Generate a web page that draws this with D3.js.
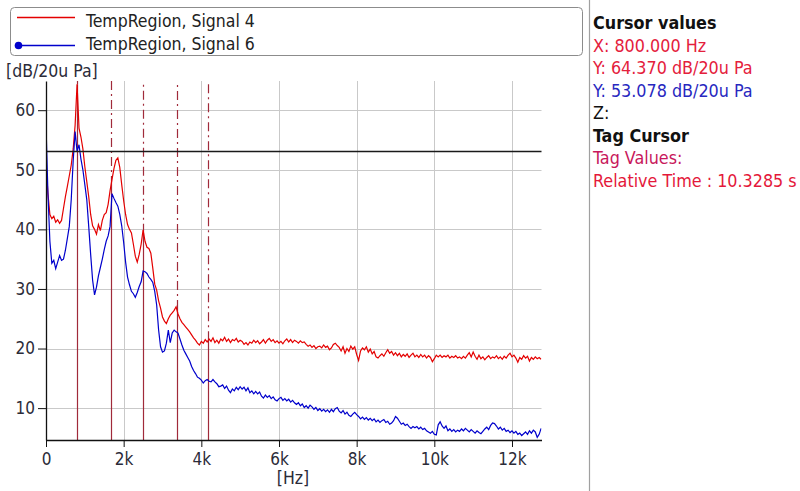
<!DOCTYPE html>
<html>
<head>
<meta charset="utf-8">
<script src="https://cdn.jsdelivr.net/npm/d3@7"></script>
<style>
  html, body { margin: 0; padding: 0; background: #fff; }
  svg { display: block; font-family: "DejaVu Sans Condensed", "DejaVu Sans", sans-serif; font-stretch: condensed; }
</style>
</head>
<body>
<svg id="chart" width="800" height="491"></svg>
<script>
// ---- data -------------------------------------------------------------
// FFT bins every 50 Hz from 0 to 12 750 Hz
const binWidthHz = 50;

const seriesNames = ["TempRegion, Signal 4", "TempRegion, Signal 6"];

// Signal 4 level per bin [dB/20u Pa]
const signal4 = [
  51.0, 46.0, 42.5, 41.8, 42.2, 41.2, 41.6, 41.0, 41.5, 43.5,
  45.5, 47.2, 49.0, 50.8, 53.5, 57.5, 64.37, 57.0, 55.5, 53.5,
  50.5, 48.0, 45.5, 42.5, 40.6, 40.0, 39.2, 40.8, 39.8, 41.5,
  42.5, 42.8, 44.2, 46.5, 48.4, 50.2, 51.6, 52.0, 50.4, 47.5,
  44.8, 42.5, 40.8, 40.0, 39.4, 37.5, 35.5, 34.5, 35.8, 37.5,
  39.9, 38.0, 37.0, 36.8, 36.0, 33.5, 30.8, 29.8, 28.0, 26.8,
  25.3, 24.6, 24.2, 25.0, 25.6, 26.0, 26.4, 27.0, 25.8, 25.0,
  24.4, 24.0, 23.6, 23.2, 22.8, 22.3, 21.8, 21.4, 20.9, 20.6,
  21.2, 20.9, 21.5, 21.1, 21.6, 21.2, 21.8, 21.0, 21.4, 20.9,
  21.6, 21.3, 21.9, 21.2, 21.6, 21.0, 21.5, 21.3, 21.7, 21.1,
  21.4, 21.2, 20.7, 21.0, 20.6, 21.1, 20.9, 21.4, 21.0, 21.3,
  20.8, 21.1, 21.5, 20.9, 21.4, 21.7, 21.2, 21.5, 21.0, 21.3,
  20.9, 21.2, 20.8, 21.3, 21.6, 21.1, 21.5, 21.0, 21.4, 21.2,
  20.9, 21.3, 21.0, 21.1, 20.7, 20.4, 20.6, 20.2, 20.5, 20.0,
  20.3, 20.4, 20.1, 20.6, 20.2, 20.4, 19.8, 20.1, 20.7, 20.9,
  20.5, 20.2, 19.6, 20.3, 19.2, 20.0, 19.5, 20.4, 19.9, 20.3,
  19.0, 18.0, 19.6, 20.1, 19.8, 20.3, 19.4, 19.9, 19.1, 19.5,
  18.6, 18.4, 18.8, 19.1, 18.7, 19.3, 19.8, 19.2, 19.5, 18.9,
  19.3, 18.8, 19.2, 18.6, 19.0, 18.7, 19.1, 18.5, 18.9, 19.2,
  18.6, 18.9, 18.5, 19.0, 18.6, 18.9, 18.4, 18.8, 18.5, 17.8,
  18.3, 18.9, 18.6, 18.9, 18.5, 18.8, 18.6, 18.9, 18.4, 18.7,
  18.5, 18.8, 18.4, 18.6, 18.3, 18.7, 18.4, 18.9, 19.3, 18.6,
  19.4, 18.7, 18.2, 18.9, 18.3, 18.6, 18.1, 18.5, 18.8, 18.3,
  18.6, 18.4, 18.8, 18.3, 18.6, 18.2, 18.7, 18.4, 18.9, 19.2,
  18.6, 18.9, 18.4, 17.7, 18.5, 18.2, 18.8, 18.4, 18.7, 17.9,
  18.5, 18.2, 18.6, 18.3, 18.5, 18.2
];

// Signal 6 level per bin [dB/20u Pa]
const signal6 = [
  57.5, 46.0, 38.0, 34.3, 34.8, 33.4, 34.5, 35.6, 34.8, 35.0,
  36.5, 38.5, 40.5, 45.0, 51.5, 56.4, 53.078, 54.2, 51.8, 50.0,
  47.5, 45.0, 40.5, 35.8, 31.5, 29.0, 30.3, 32.2, 33.6, 35.0,
  36.6, 38.0, 38.9, 40.5, 46.0, 45.2, 44.5, 43.9, 42.5, 40.6,
  37.8, 34.5, 32.0, 30.7, 29.6, 29.2, 28.6, 29.4, 30.4, 31.2,
  33.0, 32.9, 32.6, 32.0, 31.6, 31.1, 29.6, 27.3, 23.1, 20.3,
  19.4, 19.6, 20.9, 23.1, 21.0, 22.6, 23.1, 22.8, 22.6, 21.6,
  20.6, 19.7, 19.1, 18.5, 17.9, 17.0, 16.3, 15.8, 15.2, 15.0,
  14.7, 14.2, 14.6, 14.8, 14.5, 14.4, 14.8, 14.4, 14.1, 13.6,
  13.7, 13.9, 13.3, 13.7, 13.0, 12.6, 13.2, 12.9, 13.5, 13.1,
  13.6, 13.2, 13.5, 12.9, 13.4, 12.6, 12.9, 12.4, 12.8, 12.4,
  12.7, 12.0, 11.7, 12.2, 11.8, 12.1, 11.6, 11.9, 11.4, 11.2,
  11.6, 11.8, 11.3, 11.6, 11.2, 11.5, 11.0, 11.3, 10.9, 10.6,
  10.9, 10.4, 10.7, 10.1, 10.4, 10.0, 10.5, 10.2, 9.8, 10.1,
  9.6, 9.9, 9.5, 9.8, 9.4, 9.7, 9.3, 9.8, 9.4, 9.9,
  10.1, 9.5, 9.2, 9.6, 9.0, 9.3, 8.8, 8.6, 9.0, 9.3,
  8.9, 8.6, 8.2, 8.5, 8.1, 8.4, 8.0, 8.3, 7.9, 8.2,
  7.7, 8.0, 7.6, 7.9, 8.1, 7.6, 7.8, 7.3, 7.5, 7.9,
  8.6, 8.3, 7.8, 7.3, 7.5, 7.1, 7.3, 6.9, 6.6, 6.9,
  6.7, 6.9, 6.5, 6.8, 6.4, 6.6, 6.2, 6.0, 5.8, 6.1,
  5.6, 5.5, 7.2, 7.7, 7.0, 6.6, 7.0, 6.2, 6.5, 6.1,
  6.4, 6.0, 6.3, 6.1, 6.5, 6.2, 6.6, 6.3, 6.0, 6.4,
  6.1, 5.8, 6.2, 5.9, 5.7, 6.1, 6.5, 6.8, 6.4, 7.1,
  7.5, 7.4, 7.0, 6.5, 6.8, 6.3, 6.6, 6.1, 6.3, 5.9,
  6.2, 5.8, 6.1, 5.6, 5.8, 5.4, 5.7, 6.0, 5.6, 6.2,
  5.8, 6.3, 6.0, 5.1, 5.6, 6.6
];

// Cursor: main cursor frequency and its harmonic cursor positions [Hz]
const cursorHz = 800;
const harmonicHz = [800, 1675, 2490, 3365, 4180];
const cursorLevel = 53.078;

const xTicks = [0, 2000, 4000, 6000, 8000, 10000, 12000];
const yTicks = [10, 20, 30, 40, 50, 60];

const readout = [
  { text: "Cursor values", color: "#111", bold: true },
  { text: "X: 800.000 Hz", color: "#e4203c" },
  { text: "Y: 64.370 dB/20u Pa", color: "#e4203c" },
  { text: "Y: 53.078 dB/20u Pa", color: "#2828c0" },
  { text: "Z:", color: "#111" },
  { text: "Tag Cursor", color: "#111", bold: true },
  { text: "Tag Values:", color: "#c8185c" },
  { text: "Relative Time : 10.3285 s", color: "#e4183a" }
];

// ---- layout -----------------------------------------------------------
const plot = { left: 46, right: 541.5, top: 81, bottom: 440 };
const colors = { s4: "#e40000", s6: "#0000cc", cursor: "#a02a3a", grid: "#c9c9c9", tick: "#2b2b38" };
const fontSize = 17;

const svg = d3.select("#chart");

const x = d3.scaleLinear().domain([0, 12760]).range([plot.left, plot.right]);
const y = d3.scaleLinear().domain([4.65, 64.9]).range([plot.bottom, plot.top]);

const freqs = signal4.map((_, i) => i * binWidthHz);

// grid
const grid = svg.append("g").attr("stroke", colors.grid).attr("stroke-width", 1);
grid.selectAll("line.h").data(yTicks).join("line").attr("class", "h")
  .attr("x1", plot.left).attr("x2", plot.right)
  .attr("y1", d => Math.round(y(d)) + 0.5).attr("y2", d => Math.round(y(d)) + 0.5);
grid.selectAll("line.v").data(xTicks.filter(d => d > 0)).join("line").attr("class", "v")
  .attr("y1", plot.top).attr("y2", plot.bottom)
  .attr("x1", d => Math.round(x(d)) + 0.5).attr("x2", d => Math.round(x(d)) + 0.5);

// clip for the traces
svg.append("clipPath").attr("id", "plotClip").append("rect")
  .attr("x", plot.left).attr("y", plot.top - 2)
  .attr("width", plot.right - plot.left).attr("height", plot.bottom - plot.top + 2);

// level of signal 4 at an arbitrary frequency (linear between bins)
function level4(f) {
  const i = Math.min(Math.floor(f / binWidthHz), signal4.length - 2);
  const t = (f - i * binWidthHz) / binWidthHz;
  return signal4[i] + (signal4[i + 1] - signal4[i]) * t;
}

// harmonic cursors: solid below the Signal 4 trace, dash-dot above it
const harm = svg.append("g").attr("stroke", colors.cursor).attr("stroke-width", 1.2);
harm.selectAll("line.solid").data(harmonicHz).join("line").attr("class", "solid")
  .attr("x1", d => Math.round(x(d)) + 0.5).attr("x2", d => Math.round(x(d)) + 0.5)
  .attr("y1", plot.bottom).attr("y2", d => y(level4(d)));
harm.selectAll("line.dash").data(harmonicHz).join("line").attr("class", "dash")
  .attr("x1", d => Math.round(x(d)) + 0.5).attr("x2", d => Math.round(x(d)) + 0.5)
  .attr("y1", d => y(level4(d))).attr("y2", plot.top)
  .attr("stroke-dasharray", "9,4,2,4");

// traces
const line = d3.line().x((d, i) => x(freqs[i])).y(d => y(d));
const traces = svg.append("g").attr("clip-path", "url(#plotClip)").attr("fill", "none");
traces.append("path").datum(signal4).attr("d", line)
  .attr("stroke", colors.s4).attr("stroke-width", 1.2);
traces.append("path").datum(signal6).attr("d", line)
  .attr("stroke", colors.s6).attr("stroke-width", 1.2);

// horizontal level cursor
svg.append("line")
  .attr("x1", plot.left).attr("x2", plot.right)
  .attr("y1", Math.round(y(cursorLevel)) + 0.5).attr("y2", Math.round(y(cursorLevel)) + 0.5)
  .attr("stroke", "#1a1a1a").attr("stroke-width", 1.6);

// axes
const yAxis = svg.append("g").attr("transform", `translate(${plot.left},0)`)
  .call(d3.axisLeft(y).tickValues(yTicks).tickSize(8).tickSizeOuter(0).tickPadding(3));
const xAxis = svg.append("g").attr("transform", `translate(0,${plot.bottom})`)
  .call(d3.axisBottom(x).tickValues(xTicks).tickSize(7).tickSizeOuter(0).tickPadding(6)
    .tickFormat(d => d === 0 ? "0" : (d / 1000) + "k"));
[yAxis, xAxis].forEach(g => {
  g.attr("font-family", null).attr("font-size", null);
  g.select(".domain").attr("stroke", "#111").attr("stroke-width", 1.3);
  g.selectAll(".tick line").attr("stroke", "#111");
  g.selectAll(".tick text").attr("fill", colors.tick).style("font-size", fontSize + "px");
});

// axis units
svg.append("text").attr("x", 6).attr("y", 77).attr("fill", colors.tick)
  .style("font-size", "17.5px").text("[dB/20u Pa]");
svg.append("text").attr("x", 293).attr("y", 484).attr("text-anchor", "middle")
  .attr("fill", colors.tick).style("font-size", "17.5px").text("[Hz]");

// legend
svg.append("rect").attr("x", 10.5).attr("y", 7.5).attr("width", 572).attr("height", 48)
  .attr("rx", 4).attr("fill", "#fff").attr("stroke", "#8c8c8c");
const legend = svg.append("g");
const legendRows = [
  { name: seriesNames[0], color: colors.s4, y: 17.5, marker: false, base: 27 },
  { name: seriesNames[1], color: colors.s6, y: 45.5, marker: true, base: 50 }
];
legendRows.forEach(r => {
  legend.append("line").attr("x1", 17).attr("x2", 75).attr("y1", r.y).attr("y2", r.y)
    .attr("stroke", r.color).attr("stroke-width", 1.3);
  if (r.marker) legend.append("circle").attr("cx", 18.5).attr("cy", r.y).attr("r", 3.8).attr("fill", r.color);
  legend.append("text").attr("x", 86).attr("y", r.base).attr("fill", "#222")
    .style("font-size", "17.5px").text(r.name);
});

// cursor readout panel
svg.append("line").attr("x1", 589.5).attr("x2", 589.5).attr("y1", 0).attr("y2", 491)
  .attr("stroke", "#a0a0a0").attr("stroke-width", 1.2);
svg.append("g").selectAll("text").data(readout).join("text")
  .attr("x", 593).attr("y", (d, i) => 29 + i * 22.5)
  .attr("fill", d => d.color)
  .attr("font-weight", d => d.bold ? "bold" : "normal")
  .style("font-size", "17.8px")
  .text(d => d.text);
</script>
</body>
</html>
